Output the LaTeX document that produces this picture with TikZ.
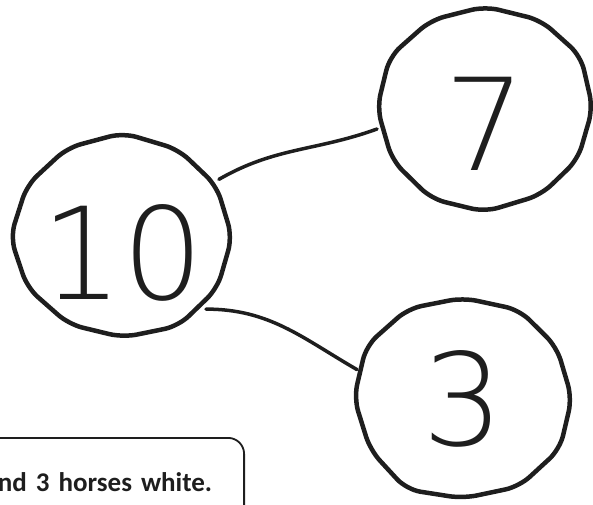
\documentclass[tikz,border=0pt]{standalone}
\usepackage{fontspec}
\setmainfont{Carlito}
\newfontfamily\digitfont{DejaVuSans-ExtraLight.ttf}
\usetikzlibrary{shapes.geometric}
\definecolor{penInk}{HTML}{1E1E1E}

\begin{document}
\begin{tikzpicture}[x=1pt, y=1pt,
    bond/.style={ellipse, minimum width=220pt, minimum height=207pt, inner sep=0pt,
                 text=penInk, text height=95pt, text depth=0pt,
                 font=\fontsize{128}{128}\digitfont},
    lowtext/.style={text height=124pt},
    ring/.style={draw=penInk, line width=4.5pt, line join=round, rounded corners=14pt},
    link/.style={draw=penInk, line width=3.5pt, line cap=round},
    notebox/.style={draw=penInk, line width=1.8pt, rounded corners=16pt,
                 align=right, text width=250pt, inner xsep=32pt, inner ysep=33pt,
                 text height=21pt, text depth=30pt,
                 font=\fontsize{27}{32}\selectfont\bfseries, text=penInk},
  ]
    \pgfmathsetseed{11}
    \useasboundingbox (0,0) rectangle (593,504);
    \clip (0,0) rectangle (593,504);

    \node[bond, lowtext] (ten)   at (123,267) {10};
    \node[bond, lowtext] (seven) at (485,396) {7};
    \node[bond]          (three) at (463,106) {3};

    % wobbly hand-drawn rings
    \foreach \c in {ten, seven, three}
      \draw[ring] plot[variable=\t, domain=0:330, samples=12]
        ([shift={(\c.center)}] \t:{107+6*rnd} and {100+6*rnd}) -- cycle;

    \draw[link] (ten.31)  to[out=30, in=200] (seven.191);
    \draw[link] (ten.-41) to[out=0, in=150]  (three.165);

    \node[notebox, anchor=north east] (note) at (245,67) {nd 3 horses white.};
  \end{tikzpicture}
\end{document}
